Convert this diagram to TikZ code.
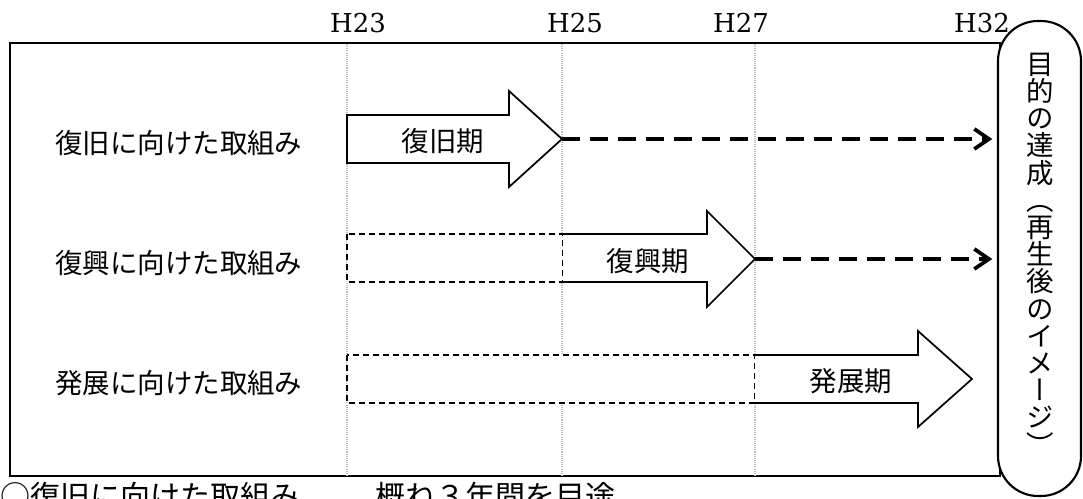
\documentclass[tikz,border=0pt]{standalone}
\usepackage{fontspec}
\setmainfont{DejaVu Serif}
\newfontfamily\jpfont{Noto Sans CJK JP}
\newfontfamily\jpvfont[RawFeature=+vert]{Noto Sans CJK JP}
\usetikzlibrary{arrows.meta}
\begin{document}
\begin{tikzpicture}[x=0.75pt,y=-0.75pt,
  frame/.style={line width=1.6pt},
  gridln/.style={gray!55, line width=0.9pt, dash pattern=on 0.8pt off 0.8pt},
  blockarrow/.style={draw, fill=white, line width=1.3pt, line join=miter},
  planbox/.style={draw, fill=white, line width=1pt, dash pattern=on 4.5pt off 3pt},
  goalline/.style={line width=2.8pt, dash pattern=on 13.5pt off 7.5pt,
    -{Straight Barb[length=11pt,width=15pt]}, shorten >=3.5pt},
  yearlab/.style={font=\fontsize{19.5}{22}\selectfont, anchor=base, inner sep=0},
  rowlab/.style={font=\jpfont\fontsize{20.6}{24}\selectfont, anchor=west, inner sep=0},
  phaselab/.style={font=\jpfont\fontsize{20.6}{24}\selectfont, inner sep=0},
  notelab/.style={font=\jpfont\fontsize{22.5}{26}\selectfont, anchor=base west, inner sep=0},
  goalbox/.style={draw, line width=1.6pt, fill=white, rounded corners=30pt,
    minimum width=62.25pt, minimum height=356.25pt, inner sep=0},
  goaltxt/.style={font={\jpvfont\fontsize{20.6}{20.4}\selectfont}, align=center, inner sep=0}
]
\useasboundingbox (0,0) rectangle (1083,499);

% frame
\draw[frame] (10,43) rectangle (1000,476);

% year grid lines
\draw[gridln] (347,44) -- (347,475);
\draw[gridln] (562,44) -- (562,475);
\draw[gridln] (755,44) -- (755,475);

% goal box
\node[goalbox] (goal) at (1039.5,258.5) {};
\node[goaltxt] (goaltext) at (1040,254) {目\\的\\の\\達\\成\\（\\再\\生\\後\\の\\イ\\メ\\ー\\ジ\\）};

% planned (dashed) periods
\draw[planbox] (347,234) rectangle (563,282);
\draw[planbox] (347,355) rectangle (755,403);

% block arrows
\draw[blockarrow] (347,115) -- (509,115) -- (509,91) -- (562,139) -- (509,187) -- (509,163) -- (347,163) -- cycle;
\filldraw[blockarrow] (563,234) -- (707,234) -- (707,211) -- (755,259) -- (707,307) -- (707,282) -- (563,282);
\filldraw[blockarrow] (755,355) -- (918,355) -- (918,331) -- (972,379) -- (918,427) -- (918,403) -- (755,403);

\coordinate (tip1) at (562,139);
\coordinate (tip2) at (755,259);

% dashed connectors to goal
\draw[goalline] (tip1) -- (tip1 -| goal.west);
\draw[goalline] (tip2) -- (tip2 -| goal.west);

% phase labels
\node[phaselab] (p1) at (443,141) {復旧期};
\node[phaselab] (p2) at (648,261) {復興期};
\node[phaselab] (p3) at (851,381) {発展期};

% row labels
\node[rowlab] (r1) at (55,143) {復旧に向けた取組み};
\node[rowlab] (r2) at (55,263) {復興に向けた取組み};
\node[rowlab] (r3) at (55,383) {発展に向けた取組み};

% year labels
\node[yearlab] (y23) at (358,33) {H23};
\node[yearlab] (y25) at (575,33) {H25};
\node[yearlab] (y27) at (741,33) {H27};
\node[yearlab] (y32) at (982,33) {H32};

% note below (cut off by page edge, as in the reference)
\node[notelab] (n1) at (0,507) {○復旧に向けた取組み};
\node[notelab] (n2) at (375,507) {概ね３年間を目途};
\end{tikzpicture}
\end{document}
